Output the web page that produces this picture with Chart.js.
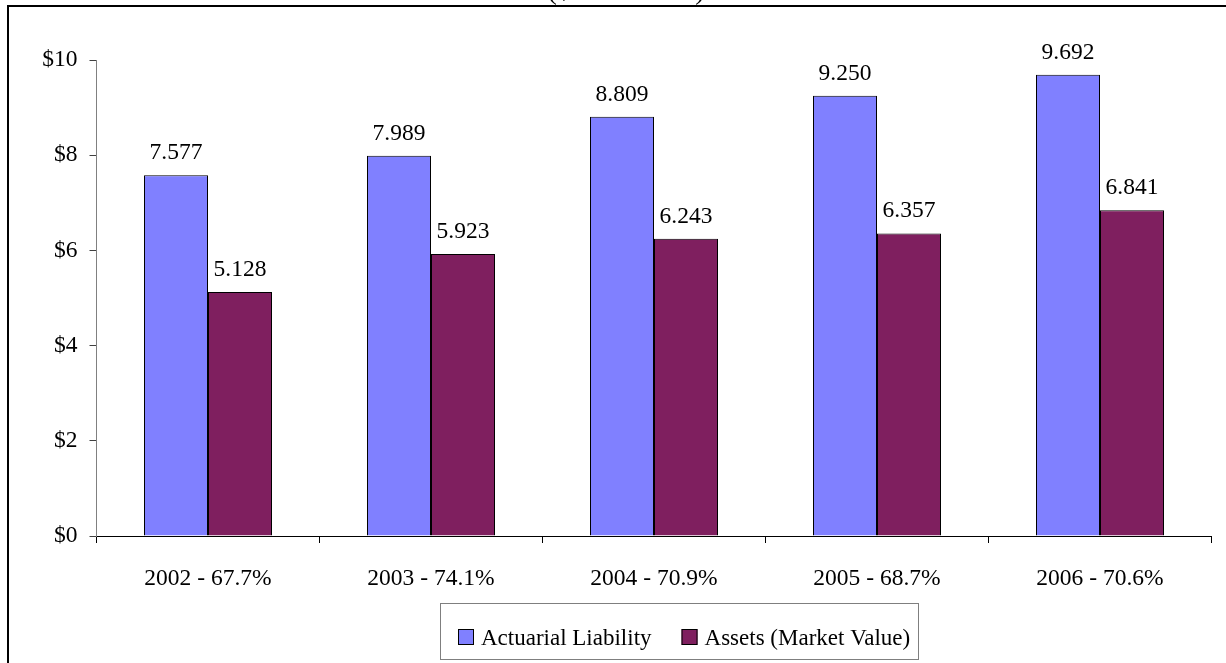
<!DOCTYPE html>
<html>
<head>
<meta charset="utf-8">
<script src="https://cdn.jsdelivr.net/npm/chart.js@4/dist/chart.umd.min.js"></script>
<style>
  html, body { margin: 0; padding: 0; background: #ffffff; }
  #wrap { position: relative; width: 1226px; height: 663px; overflow: hidden; }
  canvas { display: block; }
</style>
</head>
<body>
<div id="wrap"><canvas id="c" width="1226" height="663"></canvas></div>
<script>
// ---- data ----
const categories = ["2002 - 67.7%", "2003 - 74.1%", "2004 - 70.9%", "2005 - 68.7%", "2006 - 70.6%"];
const actuarialLiability = [7.577, 7.989, 8.809, 9.250, 9.692];
const assetsMarketValue = [5.128, 5.923, 6.243, 6.357, 6.841];
const seriesNames = ["Actuarial Liability", "Assets (Market Value)"];
const yTicks = [0, 2, 4, 6, 8, 10];
const titleText = "($ in Billions)";

const FONT_FAMILY = '"Liberation Serif", "Times New Roman", serif';
const FONT_SIZE = 23.5;
const FONT = FONT_SIZE + 'px ' + FONT_FAMILY;
const LEGEND_FONT = '23px ' + FONT_FAMILY;

Chart.defaults.font.family = FONT_FAMILY;
Chart.defaults.font.size = FONT_SIZE;
Chart.defaults.color = '#000000';

const frame = {
  id: 'frame',
  afterDraw(chart) {
    const ctx = chart.ctx;
    ctx.save();
    ctx.fillStyle = '#000000';
    ctx.fillRect(7, 5, chart.width - 7, 2);
    ctx.fillRect(7, 5, 2, chart.height - 5);
    ctx.restore();
  }
};

const valueLabels = {
  id: 'valueLabels',
  afterDatasetsDraw(chart) {
    const ctx = chart.ctx;
    ctx.save();
    ctx.font = FONT;
    ctx.fillStyle = '#000000';
    ctx.textAlign = 'center';
    ctx.textBaseline = 'alphabetic';
    chart.data.datasets.forEach((ds, i) => {
      const meta = chart.getDatasetMeta(i);
      meta.data.forEach((bar, j) => {
        ctx.fillText(ds.data[j].toFixed(3), bar.x, bar.y - 16);
      });
    });
    ctx.restore();
  }
};

const boxedLegend = {
  id: 'boxedLegend',
  afterDraw(chart) {
    const ctx = chart.ctx;
    ctx.save();
    const bx = 440, by = 603, bw = 478, bh = 56;
    ctx.strokeStyle = '#7f7f7f';
    ctx.lineWidth = 1;
    ctx.strokeRect(bx + 0.5, by + 0.5, bw, bh);
    ctx.font = LEGEND_FONT;
    ctx.textBaseline = 'alphabetic';
    ctx.textAlign = 'left';
    let x = bx + 18;
    const baseline = 645;
    const sw = 16, gap = 7, itemGap = 30;
    chart.data.datasets.forEach((ds) => {
      ctx.fillStyle = ds.backgroundColor;
      ctx.fillRect(x, baseline - sw, sw, sw);
      ctx.strokeStyle = '#000000';
      ctx.strokeRect(x + 0.5, baseline - sw + 0.5, sw - 1, sw - 1);
      ctx.fillStyle = '#000000';
      ctx.fillText(ds.label, x + sw + gap, baseline);
      x += sw + gap + ctx.measureText(ds.label).width + itemGap;
    });
    ctx.restore();
  }
};

new Chart(document.getElementById('c'), {
  type: 'bar',
  data: {
    labels: categories,
    datasets: [
      { label: seriesNames[0], data: actuarialLiability, backgroundColor: '#8080ff', borderColor: '#000000', borderWidth: 1 },
      { label: seriesNames[1], data: assetsMarketValue, backgroundColor: '#7f1f5f', borderColor: '#000000', borderWidth: 1 }
    ]
  },
  options: {
    responsive: false,
    animation: false,
    devicePixelRatio: 1,
    layout: { padding: { left: 40.5, right: 14.5, top: 0, bottom: 71 } },
    datasets: { bar: { categoryPercentage: 128 / 223, barPercentage: 1.0 } },
    plugins: {
      legend: { display: false },
      tooltip: { enabled: false },
      title: {
        display: true,
        text: titleText,
        font: { size: 28, family: FONT_FAMILY, weight: 'normal' },
        color: '#000000',
        padding: { top: -25.6, bottom: 52 }
      }
    },
    scales: {
      x: {
        grid: { display: true, drawOnChartArea: false, drawTicks: true, tickLength: 7, color: '#000000', offset: true },
        border: { display: true, color: '#000000', width: 1 },
        ticks: { padding: 22, color: '#000000', maxRotation: 0, autoSkip: false },
        afterFit(scale) { scale.height = 56; }
      },
      y: {
        min: 0, max: 10,
        afterBuildTicks(scale) { scale.ticks = yTicks.map(v => ({ value: v })); },
        grid: { display: true, drawOnChartArea: false, drawTicks: true, tickLength: 7, color: '#404040' },
        border: { display: true, color: '#808080', width: 1 },
        ticks: { padding: 12, color: '#000000', callback: (v) => '$' + v },
        afterFit(scale) { scale.width = 56; }
      }
    }
  },
  plugins: [frame, valueLabels, boxedLegend]
});
</script>
</body>
</html>
